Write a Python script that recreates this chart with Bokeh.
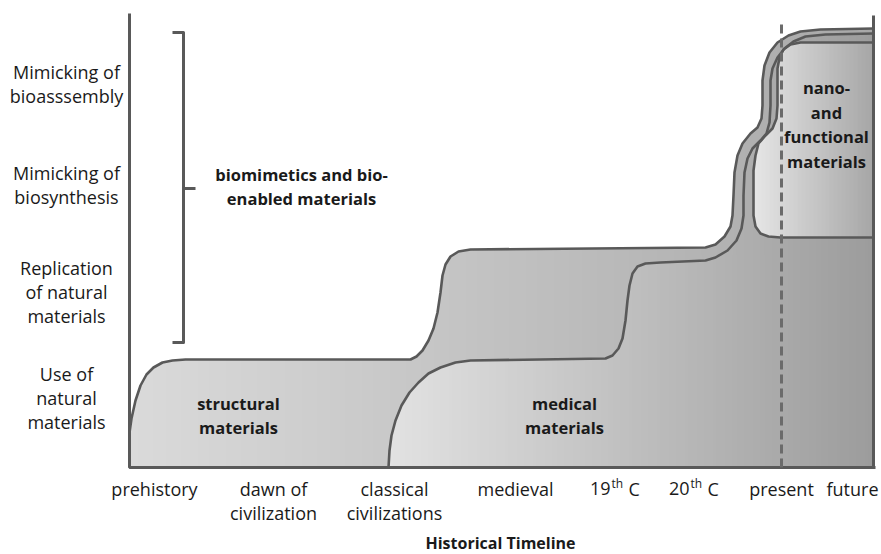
from bokeh.plotting import figure
from bokeh.models import Range1d
from bokeh.core.properties import value
from bokeh.embed import file_html
from bokeh.resources import INLINE

# ---------------- data ----------------
# Historical timeline (x axis categories) and their positions
ERAS = ["prehistory", "dawn of\ncivilization", "classical\ncivilizations", "medieval",
        "19th C", "20th C", "present", "future"]
ERA_X = [25, 144, 265, 386, 486, 565, 652, 723]

# Levels of bio-inspiration (y axis categories)
LEVELS = ["Use of\nnatural\nmaterials", "Replication\nof natural\nmaterials",
          "Mimicking of\nbiosynthesis", "Mimicking of\nbioasssembly"]
LEVEL_Y = [70, 176, 283, 384]

# Outer envelope: structural materials + biomimetics layer
ENV_X = [0, 0, 2, 6, 11, 17, 24, 33, 43, 56, 281, 287, 293, 299, 304, 308, 311, 313, 316, 321,
         329, 341, 576, 586, 595, 601, 603, 604, 605, 608, 613, 621, 628, 632, 633, 633, 635,
         640, 648, 659, 671, 691, 744]
ENV_Y = [0, 35, 49, 67, 82, 93, 100, 105, 107, 108, 108, 111, 117, 127, 139, 155, 175, 192, 203,
         211, 216, 218, 220, 223, 231, 241, 252, 272, 295, 312, 324, 334, 340, 349, 362, 387, 402,
         415, 425, 432, 436, 438, 439]

# Medical materials boundary
MED_X = [259, 260, 262, 266, 272, 280, 289, 299, 311, 326, 341, 476, 483, 489, 493, 496, 498, 500,
         503, 508, 516, 531, 576, 586, 598, 607, 612, 614, 614, 615, 618, 623, 631, 637, 640, 641,
         641, 643, 648, 655, 664, 676, 696, 744]
MED_Y = [0, 17, 32, 47, 62, 75, 85, 94, 100, 105, 107, 109, 112, 119, 129, 147, 167, 182, 194,
         201, 204, 205, 207, 210, 217, 227, 239, 252, 272, 295, 309, 319, 327, 334, 345, 362, 387,
         399, 410, 419, 426, 431, 433, 434]

# Nano- and functional materials boundary
NANO_X = [744, 671, 661, 654, 650, 648, 648, 647, 643, 636, 629, 626, 624, 624, 626, 631, 639, 651, 744]
NANO_Y = [425, 425, 423, 418, 410, 399, 362, 349, 339, 332, 324, 312, 297, 252, 241, 234, 231, 230, 230]

REGION_LABELS = ["structural\nmaterials", "medical\nmaterials",
                 "biomimetics and bio-\nenabled materials", "nano-\nand\nfunctional\nmaterials"]
REGION_LABEL_X = [109, 435, 172, 697]
REGION_LABEL_Y = [52, 52, 281, 343]

BRACKET_LOW, BRACKET_HIGH, BRACKET_MID = 125, 435, 279
AXIS_TITLE = "Historical Timeline"

# ---------------- figure ----------------
p = figure(width=881, height=554, x_range=Range1d(-129, 752), y_range=Range1d(-87, 467),
           output_backend="svg", toolbar_location=None, x_axis_type=None, y_axis_type=None,
           min_border=0, min_border_left=0, min_border_right=0, min_border_top=0, min_border_bottom=0)
p.outline_line_color = None
p.background_fill_color = "white"
p.border_fill_color = "white"

FONT = value("Open Sans")
LINE_COL = "#595959"
TXT_COL = "#1a1a1a"


def clip(poly, x0, keep_greater):
    out = []
    n = len(poly)
    for i in range(n):
        a = poly[i]
        b = poly[(i + 1) % n]
        ain = a[0] >= x0 if keep_greater else a[0] <= x0
        bin_ = b[0] >= x0 if keep_greater else b[0] <= x0
        if ain:
            out.append(a)
        if ain != bin_:
            t = (x0 - a[0]) / (b[0] - a[0])
            out.append((x0, a[1] + t * (b[1] - a[1])))
    return out


def gradient_fill(poly, g0, g1, step=4.0):
    xs_all = [q[0] for q in poly]
    x0, x1 = min(xs_all), max(xs_all)
    pxs, pys, cols = [], [], []
    a = x0
    while a < x1:
        b = min(a + step + 1.5, x1)
        piece = clip(clip(poly, a, True), b, False)
        if len(piece) >= 3:
            f = (a + step / 2 - x0) / (x1 - x0)
            f = min(max(f, 0), 1)
            g = int(round(g0 + (g1 - g0) * f))
            pxs.append([q[0] for q in piece])
            pys.append([q[1] for q in piece])
            cols.append("#%02x%02x%02x" % (g, g, g))
        a += step
    p.patches(xs=pxs, ys=pys, fill_color=cols, line_color=None, line_width=0)


env_poly = list(zip(ENV_X, ENV_Y)) + [(744, 0)]
med_poly = list(zip(MED_X, MED_Y)) + [(744, 0)]
nano_poly = list(zip(NANO_X, NANO_Y))

gradient_fill(env_poly, 218, 168)
gradient_fill(med_poly, 226, 156)
gradient_fill(nano_poly, 230, 166)

# outlines
p.line(ENV_X[1:], ENV_Y[1:], line_color=LINE_COL, line_width=2.6, line_join="round")
p.line(MED_X, MED_Y, line_color=LINE_COL, line_width=2.6, line_join="round")
p.line(NANO_X, NANO_Y, line_color=LINE_COL, line_width=2.6, line_join="round")

# axes frame lines
p.line([0, 0, 746], [454, 0, 0], line_color=LINE_COL, line_width=3)
p.line([744, 744], [452, 0], line_color=LINE_COL, line_width=3)

# "present" dashed marker
p.line([ERA_X[6], ERA_X[6]], [0, 445], line_color="#6b6b6b", line_width=3, line_dash="9 5")

# bracket
p.line([43, 54, 54, 43], [BRACKET_HIGH, BRACKET_HIGH, BRACKET_LOW, BRACKET_LOW],
       line_color=LINE_COL, line_width=3, line_join="round")
p.line([54, 66], [BRACKET_MID, BRACKET_MID], line_color=LINE_COL, line_width=3)

# y level labels
p.text(x=[-63] * len(LEVELS), y=LEVEL_Y, text=LEVELS, text_font=FONT, text_font_size="18px",
       text_align="center", text_baseline="middle", text_line_height=1.0, text_color=TXT_COL)

# x era labels
LINE1_Y, LH = -21, 25
for lab, x in zip(ERAS, ERA_X):
    if "th C" in lab:
        base = lab.split("th")[0]
        p.text(x=[x - 5], y=[LINE1_Y], text=[base], text_font=FONT, text_font_size="18px",
               text_align="right", text_baseline="middle", text_color=TXT_COL)
        p.text(x=[x - 4], y=[LINE1_Y + 5], text=["th"], text_font=FONT, text_font_size="12px",
               text_align="left", text_baseline="middle", text_color=TXT_COL)
        p.text(x=[x + 13], y=[LINE1_Y], text=["C"], text_font=FONT, text_font_size="18px",
               text_align="left", text_baseline="middle", text_color=TXT_COL)
    else:
        n = lab.count("\n") + 1
        p.text(x=[x], y=[LINE1_Y - (n - 1) * LH / 2], text=[lab], text_font=FONT,
               text_font_size="18px", text_align="center", text_baseline="middle",
               text_line_height=1.02, text_color=TXT_COL)

# region labels
p.text(x=REGION_LABEL_X, y=REGION_LABEL_Y, text=REGION_LABELS, text_font=FONT,
       text_font_size="16.5px", text_font_style="bold", text_align="center",
       text_baseline="middle", text_line_height=1.07, text_color=TXT_COL)

# axis title
p.text(x=[371], y=[-75], text=[AXIS_TITLE], text_font=FONT, text_font_size="16px",
       text_font_style="bold", text_align="center", text_baseline="middle", text_color=TXT_COL)

open("out.html", "w").write(file_html(p, INLINE))
